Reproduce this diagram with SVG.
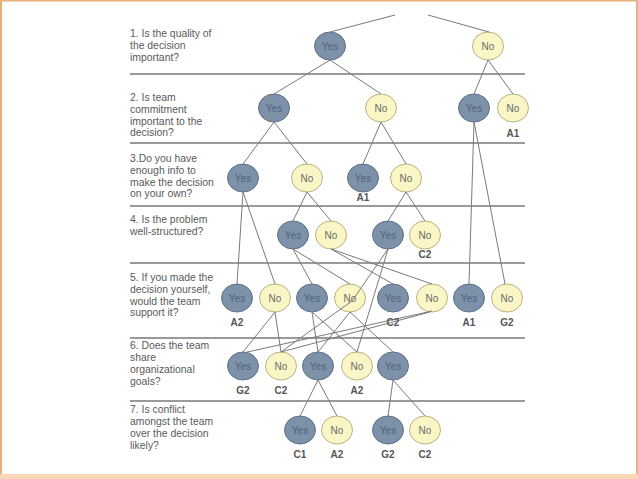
<svg xmlns="http://www.w3.org/2000/svg" width="638" height="479" viewBox="0 0 638 479">
<style>
.q{font-family:"Liberation Sans",Arial,sans-serif;font-size:10.4px;fill:#5a5a5a}
.y ellipse{fill:#7d91a8;stroke:#5f7187;stroke-width:1}
.n ellipse{fill:#fbf6c6;stroke:#b9b27e;stroke-width:1}
.y text{font-family:"Liberation Sans",Arial,sans-serif;font-size:10px;fill:#50647c;text-anchor:middle}
.n text{font-family:"Liberation Sans",Arial,sans-serif;font-size:10px;fill:#6a6a6a;text-anchor:middle}
.lb{font-family:"Liberation Sans",Arial,sans-serif;font-size:10px;font-weight:bold;fill:#555;text-anchor:middle}
.sep{stroke:#9a9a9a;stroke-width:1.8}
#edges line,#edges polyline{stroke:#7a7a7a;stroke-width:1;fill:none}
</style>
<rect x="0" y="0" width="638" height="479" fill="#ffffff"/>
<rect x="1" y="0.5" width="636" height="478" fill="none" stroke="#e8b07c" stroke-width="2"/>
<rect x="0" y="474" width="638" height="5" fill="#f8d6b6"/>

<g id="separators">
<line class="sep" x1="130" y1="74" x2="525" y2="74"/>
<line class="sep" x1="130" y1="143" x2="525" y2="143"/>
<line class="sep" x1="130" y1="206" x2="525" y2="206"/>
<line class="sep" x1="130" y1="263" x2="525" y2="263"/>
<line class="sep" x1="130" y1="338" x2="525" y2="338"/>
<line class="sep" x1="130" y1="401" x2="525" y2="401"/>
</g>

<g id="questions">
<text class="q" x="130"><tspan x="130" y="37">1. Is the quality of</tspan><tspan x="130" y="49">the decision</tspan><tspan x="130" y="61">important?</tspan></text>
<text class="q"><tspan x="130" y="101">2. Is team</tspan><tspan x="130" y="113">commitment</tspan><tspan x="130" y="125">important to the</tspan><tspan x="130" y="136">decision?</tspan></text>
<text class="q"><tspan x="130" y="162">3.Do you have</tspan><tspan x="130" y="174">enough info to</tspan><tspan x="130" y="186">make the decision</tspan><tspan x="130" y="197">on your own?</tspan></text>
<text class="q"><tspan x="130" y="223">4. Is the problem</tspan><tspan x="130" y="235">well-structured?</tspan></text>
<text class="q"><tspan x="130" y="281">5. If you made the</tspan><tspan x="130" y="293">decision yourself,</tspan><tspan x="130" y="305">would the team</tspan><tspan x="130" y="316">support it?</tspan></text>
<text class="q"><tspan x="130" y="349">6. Does the team</tspan><tspan x="130" y="361">share</tspan><tspan x="130" y="373">organizational</tspan><tspan x="130" y="385">goals?</tspan></text>
<text class="q"><tspan x="130" y="413">7. Is conflict</tspan><tspan x="130" y="425">amongst the team</tspan><tspan x="130" y="437">over the decision</tspan><tspan x="130" y="449">likely?</tspan></text>
</g>

<g id="nodes">
<g id="n1y" class="y"><ellipse cx="330" cy="46" rx="15.5" ry="14"/><text x="330" y="50">Yes</text></g>
<g id="n1n" class="n"><ellipse cx="488" cy="46" rx="15.5" ry="14"/><text x="488" y="50">No</text></g>

<g id="n2y1" class="y"><ellipse cx="274" cy="108" rx="15.5" ry="14"/><text x="274" y="112">Yes</text></g>
<g id="n2n1" class="n"><ellipse cx="381" cy="108" rx="15.5" ry="14"/><text x="381" y="112">No</text></g>
<g id="n2y2" class="y"><ellipse cx="474" cy="108" rx="15.5" ry="14"/><text x="474" y="112">Yes</text></g>
<g id="n2n2" class="n"><ellipse cx="513" cy="108" rx="15.5" ry="14"/><text x="513" y="112">No</text></g>

<g id="n3y1" class="y"><ellipse cx="243" cy="178" rx="15.5" ry="14"/><text x="243" y="182">Yes</text></g>
<g id="n3n1" class="n"><ellipse cx="307" cy="178" rx="15.5" ry="14"/><text x="307" y="182">No</text></g>
<g id="n3y2" class="y"><ellipse cx="363" cy="178" rx="15.5" ry="14"/><text x="363" y="182">Yes</text></g>
<g id="n3n2" class="n"><ellipse cx="406" cy="178" rx="15.5" ry="14"/><text x="406" y="182">No</text></g>

<g id="n4y1" class="y"><ellipse cx="293" cy="235" rx="15.5" ry="14"/><text x="293" y="239">Yes</text></g>
<g id="n4n1" class="n"><ellipse cx="331" cy="235" rx="15.5" ry="14"/><text x="331" y="239">No</text></g>
<g id="n4y2" class="y"><ellipse cx="388" cy="235" rx="15.5" ry="14"/><text x="388" y="239">Yes</text></g>
<g id="n4n2" class="n"><ellipse cx="425" cy="235" rx="15.5" ry="14"/><text x="425" y="239">No</text></g>

<g id="n5y1" class="y"><ellipse cx="237" cy="298" rx="15.5" ry="14"/><text x="237" y="302">Yes</text></g>
<g id="n5n1" class="n"><ellipse cx="275" cy="298" rx="15.5" ry="14"/><text x="275" y="302">No</text></g>
<g id="n5y2" class="y"><ellipse cx="312" cy="298" rx="15.5" ry="14"/><text x="312" y="302">Yes</text></g>
<g id="n5n2" class="n"><ellipse cx="350" cy="298" rx="15.5" ry="14"/><text x="350" y="302">No</text></g>
<g id="n5y3" class="y"><ellipse cx="393" cy="298" rx="15.5" ry="14"/><text x="393" y="302">Yes</text></g>
<g id="n5n3" class="n"><ellipse cx="432" cy="298" rx="15.5" ry="14"/><text x="432" y="302">No</text></g>
<g id="n5y4" class="y"><ellipse cx="469" cy="298" rx="15.5" ry="14"/><text x="469" y="302">Yes</text></g>
<g id="n5n4" class="n"><ellipse cx="507" cy="298" rx="15.5" ry="14"/><text x="507" y="302">No</text></g>

<g id="n6y1" class="y"><ellipse cx="243" cy="366" rx="15.5" ry="14"/><text x="243" y="370">Yes</text></g>
<g id="n6n1" class="n"><ellipse cx="281" cy="366" rx="15.5" ry="14"/><text x="281" y="370">No</text></g>
<g id="n6y2" class="y"><ellipse cx="318" cy="366" rx="15.5" ry="14"/><text x="318" y="370">Yes</text></g>
<g id="n6n2" class="n"><ellipse cx="357" cy="366" rx="15.5" ry="14"/><text x="357" y="370">No</text></g>
<g id="n6y3" class="y"><ellipse cx="393" cy="366" rx="15.5" ry="14"/><text x="393" y="370">Yes</text></g>

<g id="n7y1" class="y"><ellipse cx="300" cy="430" rx="15.5" ry="14"/><text x="300" y="434">Yes</text></g>
<g id="n7n1" class="n"><ellipse cx="337" cy="430" rx="15.5" ry="14"/><text x="337" y="434">No</text></g>
<g id="n7y2" class="y"><ellipse cx="388" cy="430" rx="15.5" ry="14"/><text x="388" y="434">Yes</text></g>
<g id="n7n2" class="n"><ellipse cx="425" cy="430" rx="15.5" ry="14"/><text x="425" y="434">No</text></g>
</g>

<g id="edges">
<line x1="395" y1="15" x2="330" y2="32"/>
<line x1="428" y1="15" x2="489" y2="32"/>
<line x1="330" y1="60" x2="274" y2="94"/>
<line x1="330" y1="60" x2="381" y2="94"/>
<line x1="488" y1="60" x2="474" y2="94"/>
<line x1="488" y1="60" x2="513" y2="94"/>
<line x1="274" y1="122" x2="243" y2="164"/>
<line x1="274" y1="122" x2="307" y2="164"/>
<line x1="381" y1="122" x2="363" y2="164"/>
<line x1="381" y1="122" x2="406" y2="164"/>
<line x1="474" y1="122" x2="469" y2="284"/>
<line x1="474" y1="122" x2="505" y2="284"/>
<line x1="243" y1="192" x2="237" y2="284"/>
<line x1="243" y1="192" x2="275" y2="284"/>
<line x1="307" y1="192" x2="293" y2="221"/>
<line x1="307" y1="192" x2="331" y2="221"/>
<line x1="406" y1="192" x2="388" y2="221"/>
<line x1="406" y1="192" x2="425" y2="221"/>
<line x1="293" y1="249" x2="312" y2="284"/>
<line x1="293" y1="249" x2="350" y2="284"/>
<line x1="331" y1="249" x2="393" y2="284"/>
<line x1="331" y1="249" x2="432" y2="284"/>
<line x1="388" y1="249" x2="357" y2="352"/>
<polyline points="388,249 352,301 281,352"/>
<line x1="275" y1="312" x2="243" y2="352"/>
<line x1="275" y1="312" x2="281" y2="352"/>
<line x1="312" y1="312" x2="318" y2="352"/>
<line x1="312" y1="312" x2="357" y2="352"/>
<line x1="350" y1="312" x2="318" y2="352"/>
<line x1="350" y1="312" x2="393" y2="352"/>
<line x1="432" y1="311" x2="243" y2="353"/>
<line x1="430" y1="312" x2="281" y2="352"/>
<line x1="318" y1="380" x2="300" y2="416"/>
<line x1="318" y1="380" x2="337" y2="416"/>
<line x1="393" y1="380" x2="388" y2="416"/>
<line x1="393" y1="380" x2="425" y2="416"/>
</g>

<g id="labels">
<text class="lb" x="513" y="137">A1</text>
<text class="lb" x="363" y="201">A1</text>
<text class="lb" x="425" y="258">C2</text>
<text class="lb" x="237" y="326">A2</text>
<text class="lb" x="393" y="326">C2</text>
<text class="lb" x="469" y="326">A1</text>
<text class="lb" x="507" y="326">G2</text>
<text class="lb" x="243" y="394">G2</text>
<text class="lb" x="281" y="394">C2</text>
<text class="lb" x="357" y="394">A2</text>
<text class="lb" x="300" y="458">C1</text>
<text class="lb" x="337" y="458">A2</text>
<text class="lb" x="388" y="458">G2</text>
<text class="lb" x="425" y="458">C2</text>
</g>
</svg>
